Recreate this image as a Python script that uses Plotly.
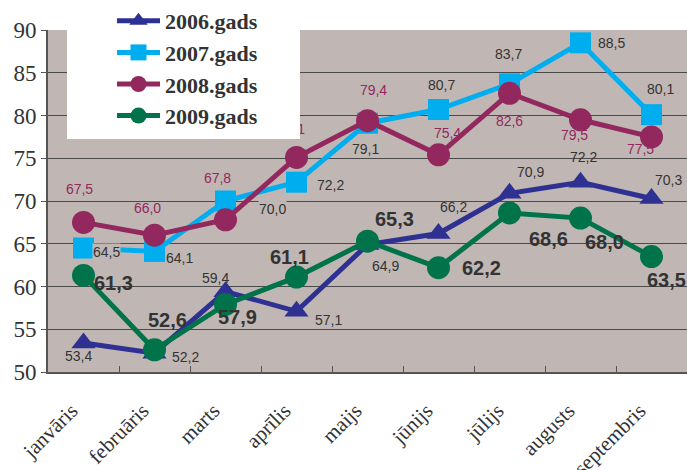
import plotly.graph_objects as go

months = ["janvāris", "februāris", "marts", "aprīlis", "maijs", "jūnijs", "jūlijs", "augusts", "septembris"]
series_names = ["2006.gads", "2007.gads", "2008.gads", "2009.gads"]
v2006 = [53.4, 52.2, 59.4, 57.1, 64.9, 66.2, 70.9, 72.2, 70.3]
v2007 = [64.5, 64.1, 70.0, 72.2, 79.1, 80.7, 83.7, 88.5, 80.1]
v2008 = [67.5, 66.0, 67.8, 75.1, 79.4, 75.4, 82.6, 79.5, 77.5]
v2009 = [61.3, 52.6, 57.9, 61.1, 65.3, 62.2, 68.6, 68.0, 63.5]
y_ticks = [50, 55, 60, 65, 70, 75, 80, 85, 90]

# style: label offsets in pixels (dx right, dy down) relative to each point
off2006 = [(-5, 13), (31, 4), (-10, -14), (32, 9), (18, 21), (15, -26), (21, -21), (3, -25), (17, -18)]
off2007 = [(23, 4), (25, 7), (47, 8), (34, 3), (-2, 26), (3, -25), (-1, -30), (31, 0), (9, -26)]
off2008 = [(-4, -32), (-7, -26), (-8, -40), (-5, -27), (6, -29), (9, -20), (0, 29), (-6, 17), (-11, 14)]
off2009 = [(30, 8), (13, -30), (12, 13), (-7, -20), (27, -22), (43, 0), (39, 26), (24, 24), (15, 23)]

colors = ["#2e3192", "#00aeef", "#93285e", "#00734a"]
symbols = ["triangle-up", "square", "circle", "circle"]
BG = "#c0b7b4"
W, H = 687, 470
ML, MR, MT, MB = 48, 0, 30, 98
px_per_cat = (W - ML - MR) / len(months)
px_per_unit = (H - MT - MB) / (y_ticks[-1] - y_ticks[0])

def fmt(v):
    return f"{v:.1f}".replace(".", ",")

fig = go.Figure()

# 2008 labels drawn beneath the lines (on an overlay linear axis for pixel offsets)
fig.add_trace(go.Scatter(
    x=[i + dx / px_per_cat for i, (dx, dy) in enumerate(off2008)],
    y=[v - dy / px_per_unit for v, (dx, dy) in zip(v2008, off2008)],
    text=[fmt(v) for v in v2008], mode="text", xaxis="x2", showlegend=False,
    textfont=dict(family="Liberation Sans", size=14, color="#93285e"),
    hoverinfo="skip", cliponaxis=False))

for name, vals, col, sym in zip(series_names, [v2006, v2007, v2008, v2009], colors, symbols):
    fig.add_trace(go.Scatter(
        x=months, y=vals, name=name, mode="lines+markers",
        line=dict(color=col, width=5),
        marker=dict(symbol=sym, size=21 if sym != "circle" else 23, color=col),
        cliponaxis=False,
    ))

ann = []
for vals, offs, bold, bg in [(v2006, off2006, False, False), (v2007, off2007, False, True), (v2009, off2009, True, False)]:
    for m, v, (dx, dy) in zip(months, vals, offs):
        ann.append(dict(
            x=m, y=v, text=fmt(v), showarrow=False, xshift=dx, yshift=-dy,
            font=dict(family="Liberation Sans", size=20 if bold else 14, color="#333333",
                      weight="bold" if bold else "normal"),
            bgcolor=BG if bg else None, borderpad=0))

# white legend panel
lx0, lx1, ly_top, ly_bot = 67, 300, 0, 139
def px_to_paper_x(px):
    return (px - ML) / (W - ML - MR)
def px_to_paper_y(py):
    return (H - MB - py) / (H - MT - MB)

fig.update_layout(
    width=W, height=H,
    margin=dict(l=ML, r=MR, t=MT, b=MB, pad=0, autoexpand=False),
    paper_bgcolor="white", plot_bgcolor=BG,
    annotations=ann,
    shapes=[dict(type="rect", xref="paper", yref="paper",
                 x0=px_to_paper_x(lx0), x1=px_to_paper_x(lx1),
                 y0=px_to_paper_y(ly_bot), y1=px_to_paper_y(ly_top),
                 fillcolor="white", line=dict(width=0), layer="above")],
    legend=dict(xref="container", yref="container",
                x=112 / W, y=1 + 1 / H, xanchor="left", yanchor="top",
                bgcolor="rgba(0,0,0,0)", itemwidth=43, tracegroupgap=0,
                font=dict(family="Liberation Serif", size=22, color="#333333", weight="bold")),
    xaxis=dict(type="category", categoryorder="array", categoryarray=months,
               range=[-0.5, len(months) - 0.5], automargin=False,
               showgrid=False, showline=True, linecolor="#555555", linewidth=2,
               ticks="inside", tickson="boundaries", ticklen=6, tickcolor="#555555",
               tickangle=-45, ticklabelstandoff=16, ticklabelshift=-12,
               tickfont=dict(family="Liberation Serif", size=21, color="#333333")),
    xaxis2=dict(overlaying="x", range=[-0.5, len(months) - 0.5], visible=False),
    yaxis=dict(range=[y_ticks[0], y_ticks[-1]], tickvals=y_ticks, automargin=False,
               showgrid=True, gridcolor="#4a4a4a", gridwidth=1,
               showline=True, linecolor="#555555", linewidth=2,
               ticks="outside", ticklen=5, tickcolor="#555555",
               tickfont=dict(family="Liberation Serif", size=23, color="#333333"),
               zeroline=False),
)

fig.write_html("out.html", config={"displayModeBar": False},
               post_script="document.body.style.margin='0';document.body.style.overflow='hidden';")
